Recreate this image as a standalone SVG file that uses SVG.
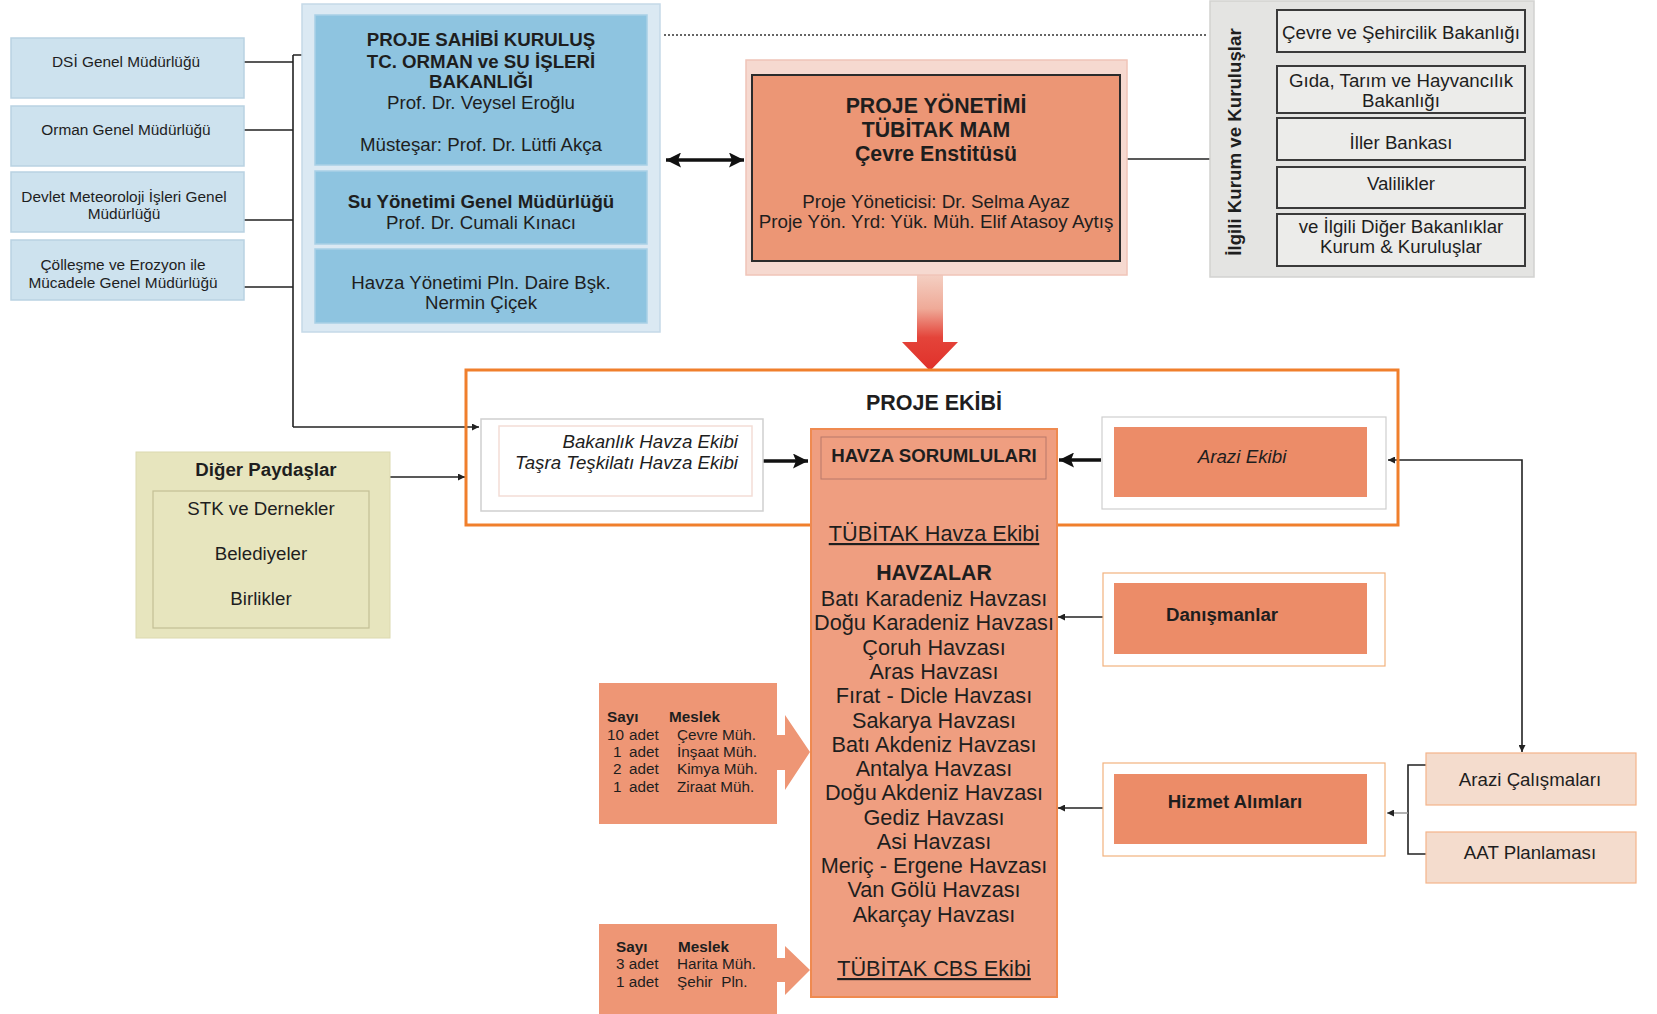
<svg xmlns="http://www.w3.org/2000/svg" width="1657" height="1014" viewBox="0 0 1657 1014">
<style>
text{font-family:"Liberation Sans",Arial,Helvetica,sans-serif;fill:#1e1e1e}
.c{text-anchor:middle}
.b{font-weight:bold}
.i{font-style:italic}
.s15{font-size:15.4px}
.s14{font-size:15.3px}
.s17{font-size:18.7px}
.s18{font-size:18.8px}
.s20{font-size:21.7px}
.s21{font-size:21.3px}
.lb{fill:#cde2ee;stroke:#b9d2e2;stroke-width:1.5}
.bi{fill:#8ec4e0;stroke:#a9d0e6;stroke-width:1.5}
.gi{fill:#ececea;stroke:#3a3a3a;stroke-width:2}
.sal{fill:#ec8c68}
.ln{fill:none;stroke:#222;stroke-width:1.6}
.thick{fill:none;stroke:#111;stroke-width:3.5}
</style>
<defs>
<marker id="ah" viewBox="0 0 10 10" refX="10" refY="5" markerWidth="7" markerHeight="7" markerUnits="userSpaceOnUse" orient="auto-start-reverse"><path d="M0,0 L10,5 L0,10 Z" fill="#222"/></marker>
<marker id="ahb" viewBox="0 0 10 10" refX="10" refY="5" markerWidth="15" markerHeight="15" markerUnits="userSpaceOnUse" orient="auto-start-reverse"><path d="M0,0 L10,5 L0,10 L2,5 Z" fill="#111"/></marker>
<linearGradient id="red" x1="0" y1="275" x2="0" y2="371" gradientUnits="userSpaceOnUse">
<stop offset="0" stop-color="#f4cfc2"/>
<stop offset="0.35" stop-color="#efaa98"/>
<stop offset="0.65" stop-color="#e4443a"/>
<stop offset="1" stop-color="#e0302a"/>
</linearGradient>
</defs>

<g id="connectors">
<path class="ln" d="M244,62 H293 M244,130 H293 M244,220 H293 M244,287 H293 M293,55 H315 M293,55 V427"/>
<path class="ln" d="M293,427 H479" marker-end="url(#ah)"/>
<path d="M664,35 H1208" fill="none" stroke="#333" stroke-width="1.5" stroke-dasharray="2,2"/>
<path class="thick" d="M666,160 H744" marker-start="url(#ahb)" marker-end="url(#ahb)"/>
<path class="ln" d="M1127,159 H1210"/>
<polygon points="917,275 943,275 943,342 958,342 930,371 902,342 917,342" fill="url(#red)"/>
<path class="ln" d="M390,477 H465" marker-end="url(#ah)"/>
<path class="thick" d="M763,461 H808" marker-end="url(#ahb)"/>
<path class="thick" d="M1101,460 H1059" marker-end="url(#ahb)"/>
<path class="ln" d="M1114,617 H1058" marker-end="url(#ah)"/>
<path class="ln" d="M1114,808 H1058" marker-end="url(#ah)"/>
<path class="ln" d="M1388,460 H1522 V752" marker-start="url(#ah)" marker-end="url(#ah)"/>
<path class="ln" d="M1426,765 H1408 V854 H1426"/>
<path d="M1408,813 H1387" fill="none" stroke="#999" stroke-width="1.5" marker-end="url(#ah)"/>
<path d="M777,735 H785 V715 L810,752 L785,790 V770 H777 Z" fill="#ee9675"/>
<path d="M777,958 H785 V946 L810,970 L785,995 V982 H777 Z" fill="#ee9675"/>
</g>

<g id="dsi"><rect class="lb" x="11" y="38" width="233" height="60"/><text class="c s15" x="126" y="67">DSİ Genel Müdürlüğü</text></g>
<g id="orman"><rect class="lb" x="11" y="106" width="233" height="60"/><text class="c s15" x="126" y="135">Orman Genel Müdürlüğü</text></g>
<g id="meteoroloji"><rect class="lb" x="11" y="172" width="233" height="60"/><text class="c s15" x="124" y="202">Devlet Meteoroloji İşleri Genel</text><text class="c s15" x="124" y="219">Müdürlüğü</text></g>
<g id="collesme"><rect class="lb" x="11" y="240" width="233" height="60"/><text class="c s15" x="123" y="270">Çölleşme ve Erozyon ile</text><text class="c s15" x="123" y="288">Mücadele Genel Müdürlüğü</text></g>

<g id="proje-sahibi">
<rect x="302" y="4" width="358" height="328" fill="#dbe9f3" stroke="#c5d9e8" stroke-width="1.5"/>
<rect class="bi" x="315" y="15" width="332" height="150"/>
<text class="c b s17" x="481" y="46">PROJE SAHİBİ KURULUŞ</text>
<text class="c b s17" x="481" y="68">TC. ORMAN ve SU İŞLERİ</text>
<text class="c b s17" x="481" y="88">BAKANLIĞI</text>
<text class="c s17" x="481" y="109">Prof. Dr. Veysel Eroğlu</text>
<text class="c s17" x="481" y="151">Müsteşar: Prof. Dr. Lütfi Akça</text>
<rect class="bi" x="315" y="171" width="332" height="73"/>
<text class="c b s17" x="481" y="208">Su Yönetimi Genel Müdürlüğü</text>
<text class="c s17" x="481" y="229">Prof. Dr. Cumali Kınacı</text>
<rect class="bi" x="315" y="249" width="332" height="74"/>
<text class="c s17" x="481" y="289">Havza Yönetimi Pln. Daire Bşk.</text>
<text class="c s17" x="481" y="309">Nermin Çiçek</text>
</g>

<g id="proje-yonetimi">
<rect x="746" y="60" width="381" height="215" fill="#f6d9d0" stroke="#f0c4b8" stroke-width="1.5"/>
<rect x="752" y="75" width="368" height="186" fill="#ec9675" stroke="#2b2b2b" stroke-width="2"/>
<text class="c b s21" x="936" y="113">PROJE YÖNETİMİ</text>
<text class="c b s21" x="936" y="137">TÜBİTAK MAM</text>
<text class="c b s21" x="936" y="161">Çevre Enstitüsü</text>
<text class="c s18" x="936" y="208">Proje Yöneticisi: Dr. Selma Ayaz</text>
<text class="c s18" x="936" y="228">Proje Yön. Yrd: Yük. Müh. Elif Atasoy Aytış</text>
</g>

<g id="ilgili-kurum">
<rect x="1210" y="1" width="324" height="276" fill="#e4e4e2" stroke="#d2d2d0" stroke-width="1.5"/>
<text class="c b s17" transform="translate(1241,142) rotate(-90)">İlgili Kurum ve Kuruluşlar</text>
<rect class="gi" x="1277" y="10" width="248" height="42"/>
<text class="c s17" x="1401" y="39">Çevre ve Şehircilik Bakanlığı</text>
<rect class="gi" x="1277" y="66" width="248" height="47"/>
<text class="c s17" x="1401" y="87">Gıda, Tarım ve Hayvancılık</text>
<text class="c s17" x="1401" y="107">Bakanlığı</text>
<rect class="gi" x="1277" y="118" width="248" height="42"/>
<text class="c s17" x="1401" y="149">İller Bankası</text>
<rect class="gi" x="1277" y="167" width="248" height="41"/>
<text class="c s17" x="1401" y="190">Valilikler</text>
<rect class="gi" x="1277" y="214" width="248" height="52"/>
<text class="c s17" x="1401" y="233">ve İlgili Diğer Bakanlıklar</text>
<text class="c s17" x="1401" y="253">Kurum &amp; Kuruluşlar</text>
</g>

<g id="proje-ekibi">
<rect x="466" y="370" width="932" height="155" fill="none" stroke="#f07f2c" stroke-width="3"/>
<text class="c b" style="font-size:21.5px" x="934" y="410">PROJE EKİBİ</text>
</g>

<g id="bakanlik-ekibi">
<rect x="481" y="419" width="282" height="92" fill="#fff" stroke="#cfcfcf" stroke-width="1.5"/>
<rect x="499" y="426" width="253" height="70" fill="#fff" stroke="#f3ddd6" stroke-width="1.5"/>
<text class="i s17" text-anchor="end" x="738" y="448">Bakanlık Havza Ekibi</text>
<text class="i s17" text-anchor="end" x="738" y="469">Taşra Teşkilatı Havza Ekibi</text>
</g>

<g id="diger-paydaslar">
<rect x="136" y="452" width="254" height="186" fill="#e7e5be" stroke="#dcd9b0" stroke-width="1"/>
<rect x="153" y="491" width="216" height="137" fill="none" stroke="#c3bf95" stroke-width="1.2"/>
<text class="c b s17" x="266" y="476">Diğer Paydaşlar</text>
<text class="c s17" x="261" y="515">STK ve Dernekler</text>
<text class="c s17" x="261" y="560">Belediyeler</text>
<text class="c s17" x="261" y="605">Birlikler</text>
</g>

<g id="havza">
<rect x="811" y="429" width="246" height="568" fill="#ef9e80" stroke="#ef8a50" stroke-width="2"/>
<rect x="821" y="437" width="225" height="42" fill="none" stroke="#b8786a" stroke-width="1"/>
<text class="c b s17" x="934" y="462">HAVZA SORUMLULARI</text>
<text class="c s20" x="934" y="541" text-decoration="underline">TÜBİTAK Havza Ekibi</text>
<text class="c b s21" x="934" y="580">HAVZALAR</text>
<text class="c s20" x="934" y="606">Batı Karadeniz Havzası</text>
<text class="c s20" x="934" y="630">Doğu Karadeniz Havzası</text>
<text class="c s20" x="934" y="655">Çoruh Havzası</text>
<text class="c s20" x="934" y="679">Aras Havzası</text>
<text class="c s20" x="934" y="703">Fırat - Dicle Havzası</text>
<text class="c s20" x="934" y="728">Sakarya Havzası</text>
<text class="c s20" x="934" y="752">Batı Akdeniz Havzası</text>
<text class="c s20" x="934" y="776">Antalya Havzası</text>
<text class="c s20" x="934" y="800">Doğu Akdeniz Havzası</text>
<text class="c s20" x="934" y="825">Gediz Havzası</text>
<text class="c s20" x="934" y="849">Asi Havzası</text>
<text class="c s20" x="934" y="873">Meriç - Ergene Havzası</text>
<text class="c s20" x="934" y="897">Van Gölü Havzası</text>
<text class="c s20" x="934" y="922">Akarçay Havzası</text>
<text class="c s20" x="934" y="976" text-decoration="underline">TÜBİTAK CBS Ekibi</text>
</g>

<g id="arazi-ekibi">
<rect x="1102" y="417" width="284" height="92" fill="#fff" stroke="#cfcfcf" stroke-width="1.2"/>
<rect class="sal" x="1114" y="427" width="253" height="70"/>
<text class="c i s18" x="1242" y="463">Arazi Ekibi</text>
</g>

<g id="danismanlar">
<rect x="1103" y="573" width="282" height="93" fill="#fff" stroke="#f2b27e" stroke-width="1.2"/>
<rect class="sal" x="1114" y="583" width="253" height="71"/>
<text class="c b s17" x="1222" y="621">Danışmanlar</text>
</g>

<g id="hizmet-alimlari">
<rect x="1103" y="763" width="282" height="93" fill="#fff" stroke="#f2b27e" stroke-width="1.2"/>
<rect class="sal" x="1114" y="774" width="253" height="70"/>
<text class="c b s17" x="1235" y="808">Hizmet Alımları</text>
</g>

<g id="arazi-calismalari">
<rect x="1426" y="753" width="210" height="52" fill="#f4dccd" stroke="#f3b48a" stroke-width="1.2"/>
<text class="c s17" x="1530" y="786">Arazi Çalışmaları</text>
</g>

<g id="aat-planlamasi">
<rect x="1426" y="832" width="210" height="51" fill="#f4dccd" stroke="#f3b48a" stroke-width="1.2"/>
<text class="c s17" x="1530" y="859">AAT Planlaması</text>
</g>

<g id="sayi-1">
<rect x="599" y="683" width="178" height="141" fill="#ee9675"/>
<text class="b s14" x="607" y="722">Sayı</text>
<text class="b s14" x="669" y="722">Meslek</text>
<text class="s14" x="607" y="740">10</text><text class="s14" x="629" y="740">adet</text><text class="s14" x="677" y="740">Çevre Müh.</text>
<text class="s14" x="613" y="757">1</text><text class="s14" x="629" y="757">adet</text><text class="s14" x="677" y="757">İnşaat Müh.</text>
<text class="s14" x="613" y="774">2</text><text class="s14" x="629" y="774">adet</text><text class="s14" x="677" y="774">Kimya Müh.</text>
<text class="s14" x="613" y="792">1</text><text class="s14" x="629" y="792">adet</text><text class="s14" x="677" y="792">Ziraat Müh.</text>
</g>

<g id="sayi-2">
<rect x="599" y="924" width="178" height="90" fill="#ee9675"/>
<text class="b s14" x="616" y="952">Sayı</text>
<text class="b s14" x="678" y="952">Meslek</text>
<text class="s14" x="616" y="969">3 adet</text><text class="s14" x="677" y="969">Harita Müh.</text>
<text class="s14" x="616" y="987">1 adet</text><text class="s14" x="677" y="987">Şehir&#160; Pln.</text>
</g>
</svg>
